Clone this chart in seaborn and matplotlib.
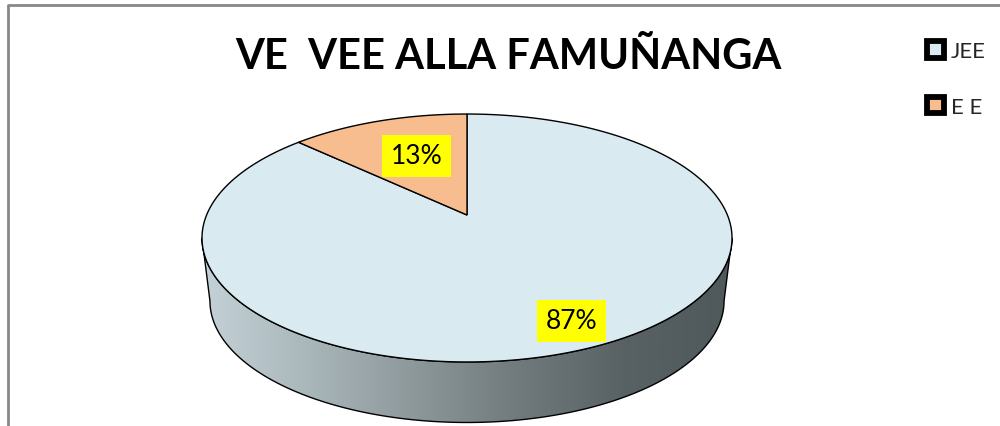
import numpy as np
import matplotlib
matplotlib.use("Agg")
import matplotlib.pyplot as plt
from matplotlib.patches import Patch, Polygon
from matplotlib.colors import LinearSegmentedColormap
import seaborn as sns

# ---- data ----
categories = ["JEE", "E E"]
values = [87, 13]
title = "VE  VEE ALLA FAMUÑANGA"

# ---- style ----
sns.set_theme(style="white")
plt.rcParams["font.family"] = ["Lato", "DejaVu Sans"]
face_colors = sns.color_palette(["#d9ebf1", "#f7bd8e"])

W, H = 1000, 427
fig = plt.figure(figsize=(W / 100, H / 100), dpi=100)
ax = fig.add_axes([0, 0, 1, 1])
ax.set_xlim(0, W)
ax.set_ylim(H, 0)
ax.axis("off")

# perspective projection of the unit disc (layout constants)
CX, CY, P, K, M = 467.0, 216.0, 0.1855, 260.4, 119.7
ECY = 239.0            # vertical centre of projected ellipse
DEPTH, SX, SY = 63.0, 0.97, 0.98


def proj(theta, r=1.0):
    x = r * np.cos(theta)
    y = r * np.sin(theta)
    d = 1 + P * y
    return CX + K * x / d, CY - M * y / d


def proj_bottom(theta):
    u, v = proj(theta)
    return CX + SX * (u - CX), ECY + SY * (v - ECY) + DEPTH


# ---- side wall (front) ----
thL = np.pi + np.arcsin(P)
thR = 2 * np.pi - np.arcsin(P)
th = np.linspace(thL, thR, 300)
ut, vt = proj(th)
ub, vb = proj_bottom(th)
side_u = np.concatenate([ut, ub[::-1]])
side_v = np.concatenate([vt, vb[::-1]])
side_poly = Polygon(np.column_stack([side_u, side_v]), closed=True,
                    facecolor="none", edgecolor="black", linewidth=1.0, zorder=3)
ax.add_patch(side_poly)
cmap = LinearSegmentedColormap.from_list(
    "side", ["#c4d1d6", "#a9b6ba", "#8d989b", "#707a7c", "#586163", "#4f585a"])
grad = np.linspace(0, 1, 512)[None, :]
im = ax.imshow(grad, cmap=cmap, extent=[side_u.min(), side_u.max(), side_v.max(), side_v.min()],
               aspect="auto", zorder=2, interpolation="bilinear")
im.set_clip_path(side_poly)

# ---- top face wedges ----
total = float(sum(values))
start = np.pi / 2
angles = []
for val, col in zip(values, face_colors):
    sweep = 2 * np.pi * val / total
    a0, a1 = start, start - sweep
    t = np.linspace(a0, a1, 400)
    u, v = proj(t)
    pu = np.concatenate([[CX], u, [CX]])
    pv = np.concatenate([[CY], v, [CY]])
    ax.fill(pu, pv, facecolor=col, edgecolor="black", linewidth=1.0, zorder=4)
    angles.append((a0 + a1) / 2)
    start = a1

# ---- percentage labels ----
label_r = [0.84, 0.57]
for val, mid, r in zip(values, angles, label_r):
    lu, lv = proj(mid, r)
    ax.text(lu + 3, lv - 2, f"{val / total * 100:.0f}%", ha="center", va="center",
            fontsize=19, color="black", zorder=6,
            bbox=dict(boxstyle="square,pad=0.32", facecolor="#ffff00", edgecolor="none"))

# ---- title ----
ax.text(508, 57, title, ha="center", va="center", fontsize=30,
        fontweight="bold", color="black", zorder=6)

# ---- legend ----
handles = [Patch(facecolor=c, edgecolor="black", linewidth=4.2, joinstyle="round")
           for c in face_colors]
leg = ax.legend(handles, categories, loc="upper left", bbox_to_anchor=(0.927, 1 - 42 / H),
                frameon=False, fontsize=16, handlelength=0.78, handleheight=0.78,
                handletextpad=0.3, labelspacing=1.6, borderpad=0, borderaxespad=0)

# ---- chart frame ----
ax.plot([7.5, 7.5, W], [H, 5.5, 5.5], color="#888888", linewidth=2.0, zorder=1,
        solid_capstyle="butt")

fig.savefig("out.png", dpi=100)
